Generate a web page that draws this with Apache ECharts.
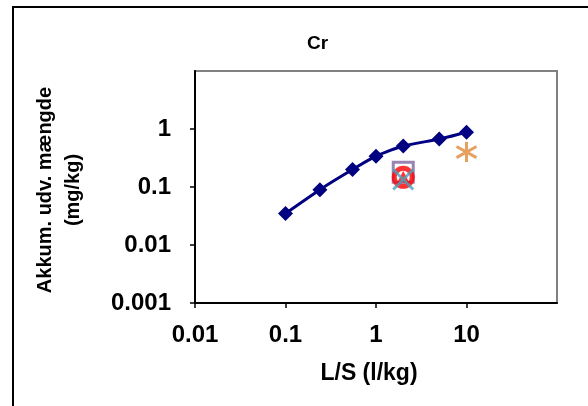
<!DOCTYPE html>
<html>
<head>
    <meta charset="utf-8">
    <title>Cr</title>
    <style>
        html, body { margin: 0; padding: 0; background: #fff; }
        #main { width: 588px; height: 406px; }
    </style>
</head>
<body>
<div id="main"></div>
<script src="https://cdn.jsdelivr.net/npm/echarts@6/dist/echarts.min.js"></script>
<script>
    // data
    var lsValues = [0.1, 0.24, 0.55, 1, 2, 5, 10];
    var crValues = [0.035, 0.09, 0.2, 0.34, 0.51, 0.67, 0.88];
    var squarePoint = [2, 0.18];
    var circlePoint = [2, 0.147];
    var trianglePoint = [2, 0.15];
    var crossPoint = [2, 0.135];
    var starPoint = [10, 0.4];
    var xTicks = [0.01, 0.1, 1, 10];
    var yTicks = [0.001, 0.01, 0.1, 1];

    var fontFam = '"Liberation Sans", Arial, sans-serif';

    function pairs(xs, ys) {
        return xs.map(function (x, i) { return [x, ys[i]]; });
    }
    function fmt(v) {
        return String(+v.toPrecision(6));
    }

    var myChart = echarts.init(document.getElementById('main'), null, {renderer: 'canvas'});

    var option = {
        backgroundColor: '#FFFFFF',
        animation: false,
        title: {
            text: 'Cr',
            left: 307,
            top: 34,
            padding: 0,
            textStyle: {fontFamily: fontFam, fontSize: 19, fontWeight: 'bold', color: '#000'}
        },
        graphic: [{
            type: 'rect',
            shape: {x: 13, y: 7, width: 620, height: 440},
            style: {fill: 'none', stroke: '#000', lineWidth: 2},
            silent: true
        }],
        grid: {
            left: 195, right: 31, top: 71, bottom: 103,
            show: true,
            borderColor: '#808080',
            borderWidth: 2,
            backgroundColor: '#fff'
        },
        xAxis: {
            type: 'log',
            logBase: 10,
            min: 0.01,
            max: 100,
            name: 'L/S (l/kg)',
            nameLocation: 'middle',
            nameGap: 59,
            nameTextStyle: {fontFamily: fontFam, fontSize: 23, fontWeight: 'bold', color: '#000', padding: [0, 14, 0, 0]},
            axisLine: {show: true, lineStyle: {color: '#000', width: 2}},
            axisTick: {show: true, inside: false, length: 5, lineStyle: {color: '#000', width: 1.5}, customValues: xTicks},
            axisLabel: {
                margin: 20,
                fontFamily: fontFam, fontSize: 24, fontWeight: 'bold', color: '#000',
                customValues: xTicks,
                formatter: fmt
            },
            splitLine: {show: false},
            minorTick: {show: false}
        },
        yAxis: {
            type: 'log',
            logBase: 10,
            min: 0.001,
            max: 10,
            name: 'Akkum. udv. mængde\n(mg/kg)',
            nameLocation: 'middle',
            nameGap: 108,
            nameTextStyle: {fontFamily: fontFam, fontSize: 20, fontWeight: 'bold', color: '#000', lineHeight: 28, padding: [0, 6, 0, 0]},
            axisLine: {show: true, lineStyle: {color: '#000', width: 2}},
            axisTick: {show: true, inside: false, length: 5, lineStyle: {color: '#000', width: 1.5}, customValues: yTicks},
            axisLabel: {
                margin: 24,
                fontFamily: fontFam, fontSize: 24, fontWeight: 'bold', color: '#000',
                customValues: yTicks,
                formatter: fmt
            },
            splitLine: {show: false},
            minorTick: {show: false}
        },
        series: [{
            name: 'Cr',
            type: 'line',
            smooth: 0.2,
            data: pairs(lsValues, crValues),
            symbol: 'diamond',
            symbolSize: 15,
            lineStyle: {color: '#000080', width: 3},
            itemStyle: {color: '#000080'},
            z: 3
        }, {
            type: 'scatter',
            data: [squarePoint],
            symbol: 'rect',
            symbolSize: 20,
            itemStyle: {color: 'rgba(0,0,0,0)', borderColor: '#7F659F', borderWidth: 3},
            z: 4
        }, {
            type: 'scatter',
            data: [circlePoint],
            symbol: 'circle',
            symbolSize: 18,
            itemStyle: {color: 'rgba(0,0,0,0)', borderColor: '#FF0000', borderWidth: 5},
            z: 5
        }, {
            type: 'scatter',
            data: [trianglePoint],
            symbol: 'triangle',
            symbolSize: 12,
            itemStyle: {color: '#FF0000'},
            z: 5
        }, {
            type: 'scatter',
            data: [crossPoint],
            symbol: 'path://M0,0L10,10M10,0L0,10',
            symbolSize: 20,
            itemStyle: {color: 'rgba(0,0,0,0)', borderColor: '#4BA3BB', borderWidth: 3},
            z: 6
        }, {
            type: 'scatter',
            data: [starPoint],
            symbol: 'path://M5,0L5,10M0.8,2.2L9.2,7.8M9.2,2.2L0.8,7.8',
            symbolSize: 20,
            itemStyle: {color: 'rgba(0,0,0,0)', borderColor: '#E0883A', borderWidth: 3},
            z: 6
        }]
    };
    myChart.setOption(option);
</script>
</body>
</html>
